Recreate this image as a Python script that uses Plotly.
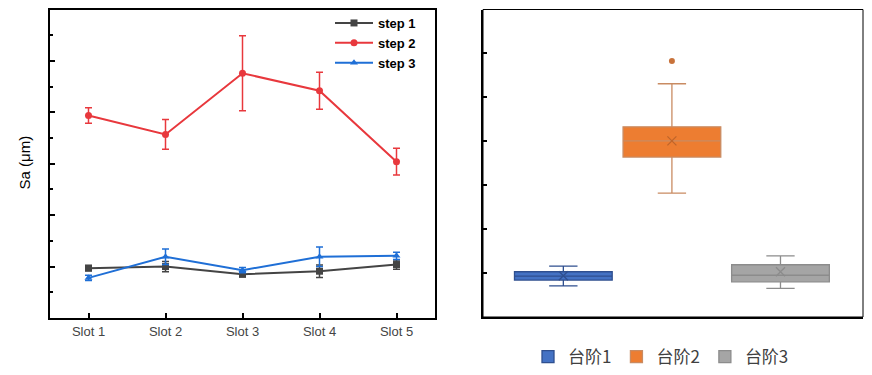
import plotly.graph_objects as go

# ---------------- data ----------------
slots = ["Slot 1", "Slot 2", "Slot 3", "Slot 4", "Slot 5"]
step1 = [0.97, 1.00, 0.85, 0.91, 1.04]
step1_err = [0.05, 0.10, 0.05, 0.12, 0.09]
step2 = [3.94, 3.57, 4.76, 4.42, 3.04]
step2_err = [0.15, 0.29, 0.73, 0.36, 0.26]
step3 = [0.78, 1.19, 0.93, 1.19, 1.21]
step3_err = [0.05, 0.15, 0.05, 0.19, 0.07]

box_names = ["台阶1", "台阶2", "台阶3"]
box_pos = [0, 1, 2]
box_q1 = [0.84, 3.64, 0.80]
box_median = [0.93, 4.01, 0.95]
box_q3 = [1.03, 4.33, 1.19]
box_low = [0.71, 2.82, 0.65]
box_high = [1.16, 5.31, 1.39]
box_mean = [0.94, 4.01, 1.03]
outlier_x = [1]
outlier_y = [5.83]

# ---------------- styles ----------------
line_colors = ["#444444", "#E8383D", "#1F6FD6"]
line_symbols = ["square", "circle", "triangle-up"]
box_fill = ["#4472C4", "#ED7D31", "#A5A5A5"]
box_line = ["#2F4F8F", "#C98B62", "#8C8C8C"]
mean_color = ["#2F4F8F", "#C0652A", "#8C8C8C"]

fig = go.Figure()

series = [("step 1", step1, step1_err), ("step 2", step2, step2_err), ("step 3", step3, step3_err)]
for i, (name, vals, errs) in enumerate(series):
    fig.add_trace(go.Scatter(
        x=slots, y=vals, name=name, mode="lines+markers",
        line=dict(color=line_colors[i], width=2),
        marker=dict(symbol=line_symbols[i], size=7, color=line_colors[i]),
        error_y=dict(type="data", array=errs, visible=True, color=line_colors[i],
                     thickness=1.5, width=3.5),
        xaxis="x", yaxis="y", legend="legend",
    ))

for i in range(3):
    fig.add_trace(go.Box(
        x=[box_pos[i]], q1=[box_q1[i]], median=[box_median[i]], q3=[box_q3[i]],
        lowerfence=[box_low[i]], upperfence=[box_high[i]],
        name=box_names[i], width=0.9, whiskerwidth=0.29,
        fillcolor=box_fill[i], line=dict(color=box_line[i], width=1.3),
        boxpoints=False, xaxis="x2", yaxis="y2", legend="legend2",
    ))

fig.add_trace(go.Scatter(
    x=box_pos, y=box_mean, mode="markers", showlegend=False,
    marker=dict(symbol="x-thin-open", size=9, color=mean_color,
                line=dict(color=mean_color, width=1.3)),
    xaxis="x2", yaxis="y2",
))
fig.add_trace(go.Scatter(
    x=outlier_x, y=outlier_y, mode="markers", showlegend=False,
    marker=dict(symbol="circle", size=6, color="#C8723A"),
    xaxis="x2", yaxis="y2",
))

# page body has an 8px margin: work in window pixels shifted by 8
OFF = 8
W, H = 872 - 2 * OFF, 375 - OFF


def px_x(p):
    return (p - OFF) / W


def px_y(p):
    return 1 - (p - OFF) / H


fig.update_layout(
    width=W, height=H,
    margin=dict(l=0, r=0, t=0, b=0),
    paper_bgcolor="white", plot_bgcolor="white",
    font=dict(family="Liberation Sans, Arial", color="#333333"),
    xaxis=dict(
        domain=[px_x(50), px_x(435)], range=[-0.5, 4.5],
        showline=True, mirror=True, linecolor="black", linewidth=2,
        ticks="inside", ticklen=5, tickwidth=2, tickcolor="black",
        showgrid=False, zeroline=False,
        tickfont=dict(size=13, color="#444444"),
    ),
    yaxis=dict(
        domain=[px_y(318), 1 - 1.5 / H], range=[0, 6],
        showline=True, mirror=True, linecolor="black", linewidth=2,
        ticks="inside", ticklen=5, tickwidth=2, tickcolor="black",
        dtick=1, tick0=0, showticklabels=False,
        minor=dict(ticks="inside", ticklen=3, tickwidth=1.5, dtick=0.5, tickcolor="black"),
        showgrid=False, zeroline=False,
    ),
    xaxis2=dict(
        domain=[px_x(483), px_x(863)], range=[-0.74, 2.76],
        showline=True, linecolor="black", linewidth=2,
        showticklabels=False, ticks="", showgrid=False, zeroline=False,
        anchor="y2",
    ),
    yaxis2=dict(
        domain=[px_y(317), 1 - 1.5 / H], range=[0, 7],
        showline=True, linecolor="black", linewidth=2,
        ticks="inside", ticklen=4, tickwidth=1.5, tickcolor="black",
        dtick=1, tick0=0, showticklabels=False,
        showgrid=False, zeroline=False, anchor="x2",
    ),
    legend=dict(
        x=px_x(330), y=1.0, xanchor="left", yanchor="top",
        bgcolor="rgba(0,0,0,0)", itemwidth=38,
        font=dict(size=13, color="black", family="Liberation Sans, Arial", weight="bold"),
        tracegroupgap=0,
    ),
    legend2=dict(
        orientation="h", x=px_x(661), y=px_y(357), xanchor="center", yanchor="middle",
        bgcolor="rgba(0,0,0,0)",
        font=dict(size=17, color="#404040", family="Noto Sans CJK SC"),
    ),
    showlegend=True,
    shapes=[dict(type="rect", xref="x2 domain", yref="y2 domain", x0=0, x1=1, y0=0, y1=1,
                 line=dict(color="black", width=1))],
    annotations=[dict(
        text="Sa (μm)", x=px_x(13), y=px_y(163), xref="paper", yref="paper",
        textangle=-90, showarrow=False, font=dict(size=15, color="black"),
    )],
)

fig.write_html("out.html")
